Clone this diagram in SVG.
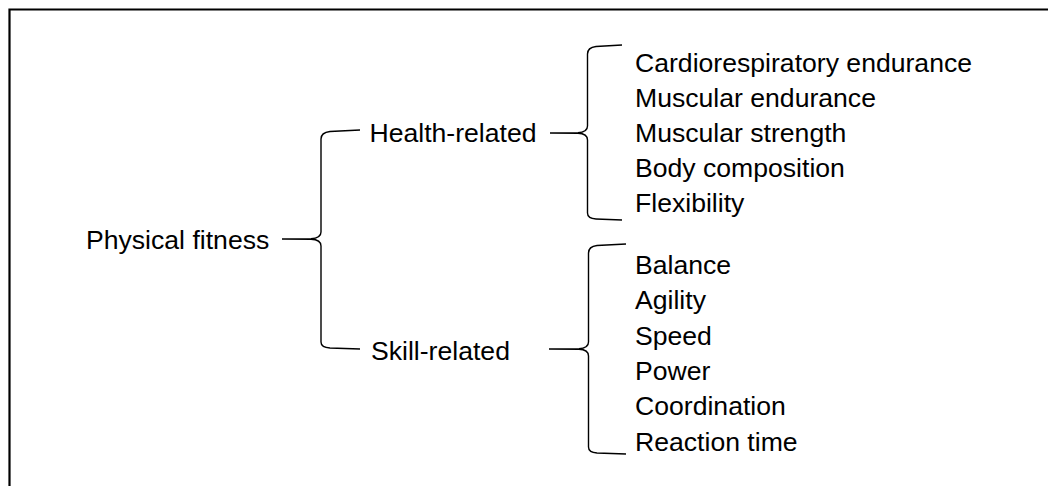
<svg xmlns="http://www.w3.org/2000/svg" width="1048" height="486" viewBox="0 0 1048 486">
<style>
  text { font-family: "Liberation Sans", Arial, sans-serif; font-size: 26.6px; fill: #000; }
  .brace { fill: none; stroke: #000; stroke-width: 1.4; stroke-linejoin: round; stroke-linecap: butt; }
  .frame { fill: none; stroke: #000; stroke-width: 2.2; }
</style>
<rect width="1048" height="486" fill="#fff"/>
<path class="frame" d="M9.5,486 V9.5 H1048"/>
<g id="connectors">
  <path class="brace" d="M360,130 L330,131.5 Q321,132.5 321,139 L321,232 Q321,238.3 311,238.7 L282,239 M282,239 L311,239.3 Q321,239.7 321,246 L321,342 Q321,347.5 330,348 L360,349"/>
  <path class="brace" d="M622,45 L596,46.5 Q587.5,47.5 587.5,54 L587.5,126 Q587.5,132.3 578,132.7 L550,133 M550,133 L578,133.3 Q587.5,133.7 587.5,140 L587.5,213 Q587.5,218.5 596,219 L622,220"/>
  <path class="brace" d="M626,244 L597,245.5 Q588.5,246.5 588.5,253 L588.5,342 Q588.5,348.3 579,348.7 L549,349 M549,349 L579,349.3 Q588.5,349.7 588.5,356 L588.5,447 Q588.5,452.5 597,453 L626,454"/>
</g>
<g id="physical-fitness"><text x="86" y="249">Physical fitness</text></g>
<g id="health-related"><text x="369.5" y="141.5">Health-related</text></g>
<g id="skill-related"><text x="371" y="360">Skill-related</text></g>
<g id="health-items">
  <text x="635" y="71.5">Cardiorespiratory endurance</text>
  <text x="635" y="106.7">Muscular endurance</text>
  <text x="635" y="141.9">Muscular strength</text>
  <text x="635" y="177.1">Body composition</text>
  <text x="635" y="212.3">Flexibility</text>
</g>
<g id="skill-items">
  <text x="635" y="274">Balance</text>
  <text x="635" y="309.3">Agility</text>
  <text x="635" y="344.6">Speed</text>
  <text x="635" y="379.9">Power</text>
  <text x="635" y="415.2">Coordination</text>
  <text x="635" y="450.5">Reaction time</text>
</g>
</svg>
